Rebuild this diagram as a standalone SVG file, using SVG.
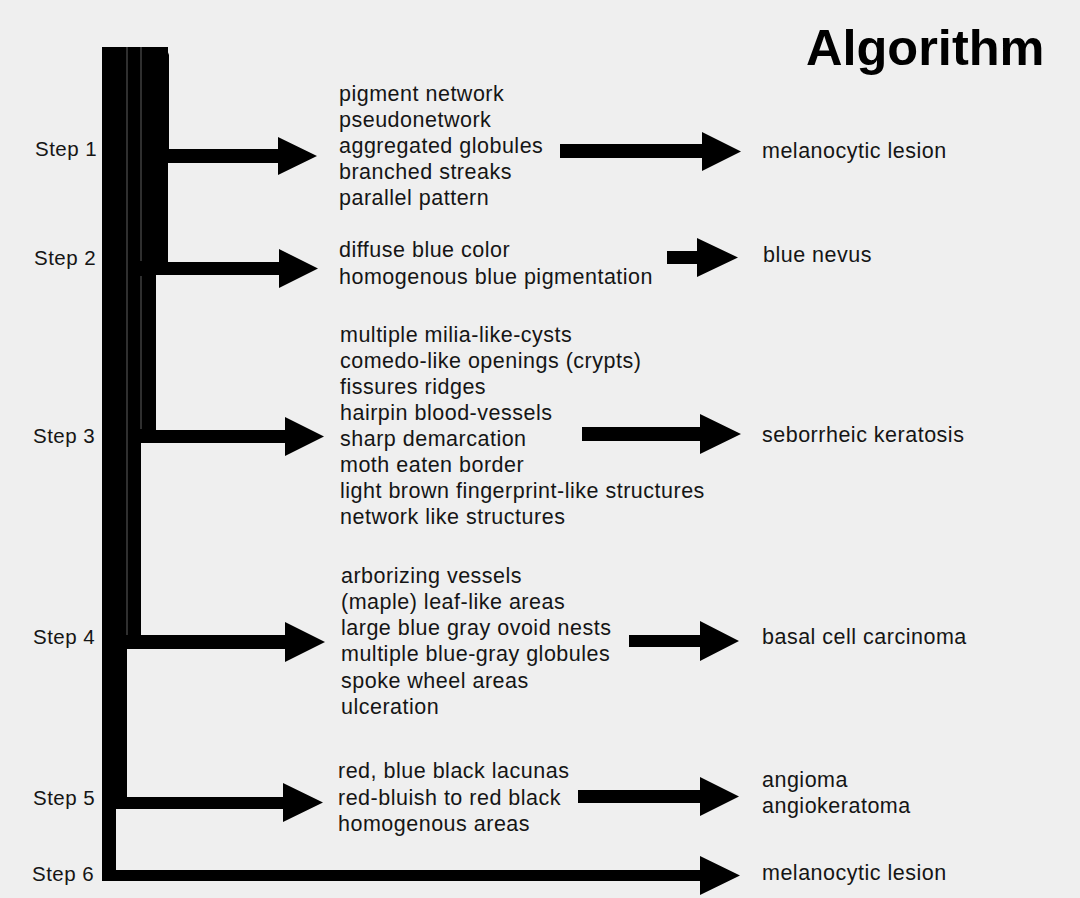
<svg xmlns="http://www.w3.org/2000/svg" width="1080" height="898" viewBox="0 0 1080 898">
<style>
text{font-family:"Liberation Sans",Arial,sans-serif;fill:#151515;}
.t{font-size:21.5px;letter-spacing:0.5px;}
.s{font-size:20.5px;letter-spacing:0.5px;}
.h{font-size:50.5px;font-weight:bold;fill:#000;}
.b{fill:#000;}
.sep{stroke:#5e5e5e;stroke-width:1;}
</style>
<rect x="0" y="0" width="1080" height="898" fill="#efefef"/>
<g id="connectors">
<path class="b" d="M102 47H116V870H700V856L740 875.5L700 895V881H102Z"/>
<path class="b" d="M102 47H127V797H283V783L323 802.5L283 822V809H102Z"/>
<path class="b" d="M127 47H141V635H285V622L325 642L285 662V649H127Z"/>
<path class="b" d="M141 47H156V430H285V417L324 436.5L285 456V443H141Z"/>
<path class="b" d="M141 47H168V262H279V249L318 268.5L279 288V275H141Z"/>
<path class="b" d="M141 47H166L169 55V149H278V137L317 156L278 175V163H141Z"/>
<line class="sep" x1="127" y1="47" x2="127" y2="635"/>
<line class="sep" x1="141" y1="47" x2="141" y2="261"/>
<line class="sep" x1="141" y1="276" x2="141" y2="429"/>
<path class="b" d="M560 144H702V132L741 151.5L702 171V158H560Z"/>
<path class="b" d="M667 251H697V238L738 257.5L697 277V264H667Z"/>
<path class="b" d="M582 427H700V414L741 434L700 454V441H582Z"/>
<path class="b" d="M629 635H700V621L739 641L700 661V647H629Z"/>
<path class="b" d="M578 790H700V777L739 796.5L700 816V803H578Z"/>
</g>
<g id="title"><text class="h" x="806" y="65">Algorithm</text></g>
<g id="step1">
<text class="s" x="35" y="156">Step 1</text>
<text class="t" x="339" y="101">pigment network</text>
<text class="t" x="339" y="127">pseudonetwork</text>
<text class="t" x="339" y="153">aggregated globules</text>
<text class="t" x="339" y="179">branched streaks</text>
<text class="t" x="339" y="205">parallel pattern</text>
<text class="t" x="762" y="158">melanocytic lesion</text>
</g>
<g id="step2">
<text class="s" x="34" y="265">Step 2</text>
<text class="t" x="339" y="257">diffuse blue color</text>
<text class="t" x="339" y="284">homogenous blue pigmentation</text>
<text class="t" x="763" y="262">blue nevus</text>
</g>
<g id="step3">
<text class="s" x="33" y="443">Step 3</text>
<text class="t" x="340" y="342">multiple milia-like-cysts</text>
<text class="t" x="340" y="368">comedo-like openings (crypts)</text>
<text class="t" x="340" y="394">fissures ridges</text>
<text class="t" x="340" y="420">hairpin blood-vessels</text>
<text class="t" x="340" y="446">sharp demarcation</text>
<text class="t" x="340" y="472">moth eaten border</text>
<text class="t" x="340" y="498">light brown fingerprint-like structures</text>
<text class="t" x="340" y="524">network like structures</text>
<text class="t" x="762" y="442">seborrheic keratosis</text>
</g>
<g id="step4">
<text class="s" x="33" y="644">Step 4</text>
<text class="t" x="341" y="583">arborizing vessels</text>
<text class="t" x="341" y="609">(maple) leaf-like areas</text>
<text class="t" x="341" y="635">large blue gray ovoid nests</text>
<text class="t" x="341" y="661">multiple blue-gray globules</text>
<text class="t" x="341" y="688">spoke wheel areas</text>
<text class="t" x="341" y="714">ulceration</text>
<text class="t" x="762" y="644">basal cell carcinoma</text>
</g>
<g id="step5">
<text class="s" x="33" y="805">Step 5</text>
<text class="t" x="338" y="778">red, blue black lacunas</text>
<text class="t" x="338" y="805">red-bluish to red black</text>
<text class="t" x="338" y="831">homogenous areas</text>
<text class="t" x="762" y="787">angioma</text>
<text class="t" x="762" y="813">angiokeratoma</text>
</g>
<g id="step6">
<text class="s" x="32" y="881">Step 6</text>
<text class="t" x="762" y="880">melanocytic lesion</text>
</g>
</svg>
